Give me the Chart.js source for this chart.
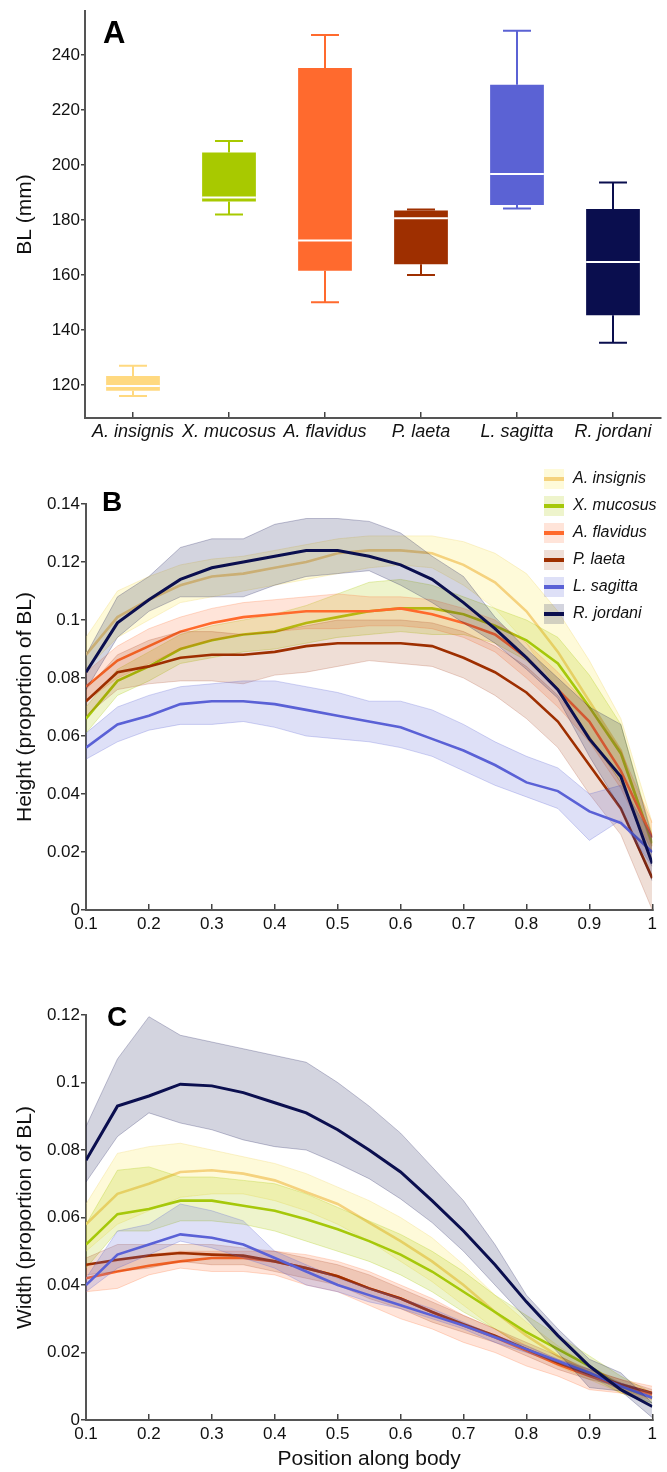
<!DOCTYPE html>
<html>
<head>
<meta charset="utf-8">
<script src="https://cdn.jsdelivr.net/npm/chart.js@4.4.1/dist/chart.umd.min.js"></script>
<style>
  html, body { margin: 0; padding: 0; background: #fff; }
  #wrap { position: relative; width: 667px; height: 1472px; }
  .panel { position: absolute; left: 0; width: 667px; }
</style>
</head>
<body>
<div id="wrap">
  <div class="panel" style="top:0px; height:448px"><canvas id="chartA" width="667" height="448"></canvas></div>
  <div class="panel" style="top:458px; height:490px"><canvas id="chartB" width="667" height="490"></canvas></div>
  <div class="panel" style="top:948px; height:524px"><canvas id="chartC" width="667" height="524"></canvas></div>
</div>
<script>
const species = ['A. insignis', 'X. mucosus', 'A. flavidus', 'P. laeta', 'L. sagitta', 'R. jordani'];
const lineColors = ['#f5d27e', '#a6c80a', '#ff6a2c', '#9e2f00', '#5a61d6', '#0b0f4f'];
const boxColors = ['#ffd980', '#a8c900', '#ff6a2e', '#9e2f00', '#5b62d4', '#0a0e4e'];
const bandColors = ['rgba(250,238,120,0.28)', 'rgba(168,201,0,0.2)', 'rgba(255,107,44,0.18)',
                    'rgba(158,47,0,0.16)', 'rgba(91,98,213,0.2)', 'rgba(11,14,78,0.18)'];
const bandEdges = ['rgba(240,215,110,0.4)', 'rgba(168,201,0,0.35)', 'rgba(255,107,44,0.3)',
                   'rgba(158,47,0,0.25)', 'rgba(91,98,213,0.35)', 'rgba(11,14,78,0.3)'];

// A: body length (mm)
const blMin    = [116.0, 182.0, 150.1, 160.0, 184.2, 135.4];
const blQ1     = [117.9, 186.8, 161.6, 163.9, 185.5, 145.4];
const blMedian = [119.6, 188.2, 172.6, 180.7, 196.8, 164.8];
const blQ3     = [123.3, 204.6, 235.3, 183.5, 229.2, 184.0];
const blMax    = [127.0, 208.8, 247.3, 183.9, 248.9, 193.7];
const blTicks  = [120, 140, 160, 180, 200, 220, 240];

// B, C: position along body
const bodyPos = [0.1, 0.15, 0.2, 0.25, 0.3, 0.35, 0.4, 0.45, 0.5, 0.55, 0.6, 0.65, 0.7, 0.75, 0.8, 0.85, 0.9, 0.95, 1];
const posTicks = [0.1, 0.2, 0.3, 0.4, 0.5, 0.6, 0.7, 0.8, 0.9, 1];
const heightTicks = [0, 0.02, 0.04, 0.06, 0.08, 0.1, 0.12, 0.14];
const widthTicks = [0, 0.02, 0.04, 0.06, 0.08, 0.1, 0.12];

// B: height (proportion of BL)
const hInsignis   = [0.088, 0.101, 0.107, 0.112, 0.115, 0.116, 0.118, 0.120, 0.123, 0.124, 0.124, 0.123, 0.119, 0.113, 0.103, 0.089, 0.072, 0.055, 0.022];
const hInsignisHi = [0.094, 0.110, 0.115, 0.119, 0.121, 0.122, 0.124, 0.126, 0.128, 0.129, 0.129, 0.129, 0.127, 0.123, 0.116, 0.103, 0.086, 0.066, 0.030];
const hInsignisLo = [0.083, 0.094, 0.100, 0.106, 0.108, 0.110, 0.112, 0.114, 0.116, 0.118, 0.119, 0.118, 0.112, 0.104, 0.092, 0.076, 0.058, 0.045, 0.015];
const hMucosus    = [0.066, 0.079, 0.084, 0.090, 0.093, 0.095, 0.096, 0.099, 0.101, 0.103, 0.104, 0.104, 0.102, 0.098, 0.093, 0.085, 0.070, 0.054, 0.023];
const hMucosusHi  = [0.070, 0.083, 0.089, 0.095, 0.098, 0.100, 0.102, 0.105, 0.109, 0.113, 0.114, 0.112, 0.108, 0.104, 0.100, 0.094, 0.081, 0.064, 0.026];
const hMucosusLo  = [0.061, 0.074, 0.079, 0.085, 0.087, 0.089, 0.090, 0.092, 0.094, 0.095, 0.096, 0.095, 0.095, 0.092, 0.086, 0.076, 0.060, 0.044, 0.020];
const hFlavidus   = [0.077, 0.086, 0.091, 0.096, 0.099, 0.101, 0.102, 0.103, 0.103, 0.103, 0.104, 0.102, 0.099, 0.095, 0.087, 0.076, 0.065, 0.048, 0.025];
const hFlavidusHi = [0.082, 0.091, 0.097, 0.101, 0.104, 0.106, 0.107, 0.108, 0.109, 0.108, 0.108, 0.107, 0.104, 0.100, 0.092, 0.082, 0.070, 0.055, 0.030];
const hFlavidusLo = [0.072, 0.080, 0.085, 0.090, 0.093, 0.095, 0.096, 0.097, 0.097, 0.098, 0.098, 0.097, 0.094, 0.089, 0.080, 0.070, 0.058, 0.042, 0.020];
const hLaeta      = [0.072, 0.082, 0.084, 0.087, 0.088, 0.088, 0.089, 0.091, 0.092, 0.092, 0.092, 0.091, 0.087, 0.082, 0.075, 0.065, 0.050, 0.035, 0.011];
const hLaetaHi    = [0.076, 0.088, 0.093, 0.096, 0.096, 0.095, 0.096, 0.098, 0.100, 0.100, 0.100, 0.099, 0.096, 0.091, 0.084, 0.074, 0.060, 0.044, 0.025];
const hLaetaLo    = [0.067, 0.076, 0.078, 0.079, 0.079, 0.078, 0.081, 0.082, 0.084, 0.086, 0.085, 0.084, 0.080, 0.074, 0.066, 0.056, 0.040, 0.026, 0.000];
const hSagitta    = [0.056, 0.064, 0.067, 0.071, 0.072, 0.072, 0.071, 0.069, 0.067, 0.065, 0.063, 0.059, 0.055, 0.050, 0.044, 0.041, 0.034, 0.030, 0.020];
const hSagittaHi  = [0.061, 0.070, 0.074, 0.077, 0.078, 0.079, 0.079, 0.077, 0.075, 0.072, 0.072, 0.069, 0.064, 0.058, 0.053, 0.049, 0.040, 0.043, 0.025];
const hSagittaLo  = [0.052, 0.058, 0.062, 0.064, 0.064, 0.065, 0.063, 0.060, 0.059, 0.058, 0.056, 0.053, 0.048, 0.043, 0.039, 0.035, 0.024, 0.031, 0.015];
const hJordani    = [0.082, 0.099, 0.107, 0.114, 0.118, 0.120, 0.122, 0.124, 0.124, 0.122, 0.119, 0.114, 0.106, 0.097, 0.087, 0.076, 0.059, 0.046, 0.016];
const hJordaniHi  = [0.088, 0.108, 0.115, 0.125, 0.128, 0.128, 0.133, 0.135, 0.135, 0.134, 0.130, 0.122, 0.115, 0.101, 0.090, 0.080, 0.070, 0.064, 0.025];
const hJordaniLo  = [0.076, 0.094, 0.103, 0.108, 0.108, 0.108, 0.112, 0.115, 0.116, 0.117, 0.112, 0.106, 0.099, 0.092, 0.083, 0.073, 0.053, 0.035, 0.010];

// C: width (proportion of BL)
const wInsignis   = [0.058, 0.067, 0.070, 0.0735, 0.074, 0.073, 0.071, 0.0675, 0.064, 0.0585, 0.053, 0.047, 0.040, 0.032, 0.025, 0.019, 0.014, 0.009, 0.0066];
const wInsignisHi = [0.064, 0.079, 0.081, 0.082, 0.080, 0.078, 0.076, 0.073, 0.069, 0.065, 0.060, 0.054, 0.046, 0.037, 0.029, 0.022, 0.016, 0.011, 0.008];
const wInsignisLo = [0.050, 0.058, 0.062, 0.066, 0.067, 0.067, 0.065, 0.062, 0.058, 0.053, 0.047, 0.041, 0.034, 0.027, 0.021, 0.016, 0.012, 0.008, 0.005];
const wMucosus    = [0.052, 0.061, 0.0625, 0.065, 0.065, 0.0635, 0.062, 0.0595, 0.0565, 0.053, 0.049, 0.044, 0.038, 0.032, 0.026, 0.021, 0.016, 0.010, 0.0066];
const wMucosusHi  = [0.058, 0.074, 0.075, 0.072, 0.072, 0.071, 0.070, 0.067, 0.063, 0.059, 0.055, 0.050, 0.044, 0.037, 0.031, 0.025, 0.019, 0.013, 0.008];
const wMucosusLo  = [0.045, 0.056, 0.056, 0.059, 0.059, 0.058, 0.056, 0.053, 0.050, 0.047, 0.043, 0.038, 0.032, 0.027, 0.021, 0.017, 0.013, 0.008, 0.005];
const wFlavidus   = [0.042, 0.044, 0.0457, 0.047, 0.048, 0.048, 0.047, 0.045, 0.0426, 0.039, 0.036, 0.032, 0.028, 0.0245, 0.0205, 0.0165, 0.013, 0.010, 0.0076];
const wFlavidusHi = [0.046, 0.047, 0.049, 0.050, 0.050, 0.050, 0.050, 0.049, 0.047, 0.044, 0.040, 0.036, 0.031, 0.027, 0.022, 0.018, 0.015, 0.012, 0.010];
const wFlavidusLo = [0.038, 0.039, 0.043, 0.045, 0.044, 0.044, 0.043, 0.040, 0.038, 0.034, 0.030, 0.027, 0.023, 0.020, 0.016, 0.013, 0.009, 0.008, 0.006];
const wLaeta      = [0.046, 0.0475, 0.0487, 0.0495, 0.049, 0.0487, 0.047, 0.045, 0.0426, 0.039, 0.036, 0.032, 0.0284, 0.025, 0.021, 0.017, 0.0136, 0.0106, 0.008];
const wLaetaHi    = [0.048, 0.052, 0.052, 0.052, 0.052, 0.051, 0.050, 0.048, 0.046, 0.043, 0.039, 0.035, 0.031, 0.027, 0.023, 0.019, 0.015, 0.012, 0.009];
const wLaetaLo    = [0.043, 0.044, 0.045, 0.047, 0.046, 0.046, 0.044, 0.042, 0.040, 0.036, 0.033, 0.029, 0.026, 0.023, 0.019, 0.015, 0.012, 0.010, 0.007];
const wSagitta    = [0.040, 0.049, 0.052, 0.055, 0.054, 0.052, 0.048, 0.044, 0.040, 0.037, 0.034, 0.031, 0.028, 0.0245, 0.021, 0.0175, 0.014, 0.010, 0.0066];
const wSagittaHi  = [0.042, 0.056, 0.058, 0.064, 0.062, 0.059, 0.050, 0.046, 0.042, 0.039, 0.036, 0.033, 0.029, 0.025, 0.022, 0.018, 0.015, 0.011, 0.008];
const wSagittaLo  = [0.038, 0.045, 0.049, 0.053, 0.051, 0.048, 0.045, 0.040, 0.038, 0.035, 0.033, 0.030, 0.027, 0.023, 0.020, 0.017, 0.013, 0.009, 0.005];
const wJordani    = [0.077, 0.093, 0.096, 0.0995, 0.099, 0.097, 0.094, 0.091, 0.086, 0.080, 0.0735, 0.065, 0.056, 0.046, 0.035, 0.025, 0.016, 0.009, 0.004];
const wJordaniHi  = [0.087, 0.107, 0.1195, 0.114, 0.112, 0.110, 0.108, 0.106, 0.100, 0.093, 0.085, 0.075, 0.065, 0.052, 0.037, 0.027, 0.018, 0.014, 0.005];
const wJordaniLo  = [0.0705, 0.084, 0.091, 0.088, 0.086, 0.083, 0.081, 0.080, 0.076, 0.0715, 0.0655, 0.0585, 0.050, 0.040, 0.030, 0.020, 0.0096, 0.0086, 0.0007];

const FONT = '"Liberation Sans", Arial, Helvetica, sans-serif';
Chart.defaults.font.family = FONT;
Chart.defaults.color = '#111';

const fmt = v => String(Number(Number(v).toFixed(3)));

// panel letter (A, B, C)
const panelLetter = {
    id: 'panelLetter',
    afterDraw(chart, args, opts) {
        const { ctx } = chart;
        ctx.save();
        ctx.font = 'bold ' + opts.size + 'px ' + FONT;
        ctx.fillStyle = '#000';
        ctx.textBaseline = 'alphabetic';
        ctx.fillText(opts.text, opts.x, opts.y);
        ctx.restore();
    }
};

// whiskers + median for the box plot
const boxWhiskers = {
    id: 'boxWhiskers',
    afterDatasetsDraw(chart) {
        const { ctx, scales: { x, y } } = chart;
        const bars = chart.getDatasetMeta(0).data;
        ctx.save();
        species.forEach((name, i) => {
            const cx = x.getPixelForValue(i);
            const half = bars[i].width / 2;
            const cap = half * 0.52;
            ctx.strokeStyle = boxColors[i];
            ctx.lineWidth = 2;
            ctx.beginPath();
            ctx.moveTo(cx, y.getPixelForValue(blQ3[i]));
            ctx.lineTo(cx, y.getPixelForValue(blMax[i]));
            ctx.moveTo(cx - cap, y.getPixelForValue(blMax[i]));
            ctx.lineTo(cx + cap, y.getPixelForValue(blMax[i]));
            ctx.moveTo(cx, y.getPixelForValue(blQ1[i]));
            ctx.lineTo(cx, y.getPixelForValue(blMin[i]));
            ctx.moveTo(cx - cap, y.getPixelForValue(blMin[i]));
            ctx.lineTo(cx + cap, y.getPixelForValue(blMin[i]));
            ctx.stroke();

            ctx.strokeStyle = '#fff';
            ctx.beginPath();
            ctx.moveTo(cx - half, y.getPixelForValue(blMedian[i]));
            ctx.lineTo(cx + half, y.getPixelForValue(blMedian[i]));
            ctx.stroke();
        });
        ctx.restore();
    }
};

// legend of panel B (band swatch with line through it)
const bandLegend = {
    id: 'bandLegend',
    afterDraw(chart) {
        const { ctx } = chart;
        ctx.save();
        ctx.font = 'italic 16px ' + FONT;
        ctx.textBaseline = 'middle';
        species.forEach((name, i) => {
            const yMid = 21 + i * 27;
            ctx.fillStyle = bandColors[i];
            ctx.fillRect(544, yMid - 10, 20, 20);
            ctx.fillStyle = lineColors[i];
            ctx.fillRect(544, yMid - 2, 20, 4);
            ctx.fillStyle = '#111';
            ctx.fillText(name, 573, yMid);
        });
        ctx.restore();
    }
};

function bandDatasets(means, lows, highs) {
    const pts = arr => arr.map((v, k) => ({ x: bodyPos[k], y: v }));
    const out = [];
    species.forEach((name, i) => {
        out.push({
            label: name + ' upper', data: pts(highs[i]), borderColor: bandEdges[i], borderWidth: 0.8,
            backgroundColor: bandColors[i], fill: '+1', pointRadius: 0, order: 100 - 2 * i,
        });
        out.push({
            label: name + ' lower', data: pts(lows[i]), borderColor: bandEdges[i], borderWidth: 0.8,
            fill: false, pointRadius: 0, order: 100 - 2 * i,
        });
        out.push({
            label: name, data: pts(means[i]), borderColor: lineColors[i], borderWidth: i === 5 ? 3 : 2.6,
            fill: false, pointRadius: 0, order: 99 - 2 * i,
        });
    });
    return out;
}

const axisBorder = { display: true, color: '#555', width: 2 };

function lineConfig(datasets, yTicks, yMax, yTitle, xHeight, padTop, letter, extraPlugins, xTitle) {
    return {
        type: 'line',
        data: { datasets: datasets },
        plugins: [panelLetter].concat(extraPlugins),
        options: {
            responsive: false,
            animation: false,
            layout: { padding: { top: padTop, right: 10, left: 0, bottom: 0 } },
            plugins: {
                legend: { display: false },
                tooltip: { enabled: false },
                panelLetter: letter,
            },
            scales: {
                x: {
                    type: 'linear', min: 0.1, max: 1,
                    afterBuildTicks: s => { s.ticks = posTicks.map(v => ({ value: v })); },
                    afterFit: s => { s.height = xHeight; },
                    ticks: { callback: fmt, font: { size: 17 }, padding: 10, maxRotation: 0, minRotation: 0, color: '#111' },
                    grid: { drawOnChartArea: false, tickLength: -6, color: '#444', lineWidth: 1.5 },
                    border: axisBorder,
                    title: xTitle ? { display: true, text: xTitle, font: { size: 21 }, color: '#111', padding: { top: 0, bottom: 0 } } : { display: false },
                },
                y: {
                    min: 0, max: yMax,
                    afterBuildTicks: s => { s.ticks = yTicks.map(v => ({ value: v })); },
                    afterFit: s => { s.width = 86; },
                    ticks: { callback: fmt, font: { size: 17 }, padding: 1, color: '#111' },
                    grid: { drawOnChartArea: false, tickLength: 5, color: '#444', lineWidth: 1.5 },
                    border: axisBorder,
                    title: { display: true, text: yTitle, font: { size: 21 }, color: '#111', padding: { top: 13, bottom: 0 } },
                },
            },
        },
    };
}

// A
const configA = {
    type: 'bar',
    data: {
        labels: species,
        datasets: [{
            label: 'BL',
            data: species.map((s, i) => [blQ1[i], blQ3[i]]),
            backgroundColor: boxColors,
            borderWidth: 0,
            barPercentage: 0.56,
            categoryPercentage: 1,
        }],
    },
    plugins: [boxWhiskers, panelLetter],
    options: {
        responsive: false,
        animation: false,
        layout: { padding: { top: 10, right: 6, left: 0, bottom: 0 } },
        plugins: {
            legend: { display: false },
            tooltip: { enabled: false },
            panelLetter: { text: 'A', x: 103, y: 43, size: 31 },
        },
        scales: {
            x: {
                afterFit: s => { s.height = 30; },
                ticks: { font: { size: 18, style: 'italic' }, padding: 9, color: '#111', maxRotation: 0, minRotation: 0, autoSkip: false },
                grid: { drawOnChartArea: false, offset: false, tickLength: -6, color: '#444', lineWidth: 1.5 },
                border: axisBorder,
            },
            y: {
                min: 108, max: 256,
                afterBuildTicks: s => { s.ticks = blTicks.map(v => ({ value: v })); },
                afterFit: s => { s.width = 85; },
                ticks: { font: { size: 17 }, padding: 1, color: '#111' },
                grid: { drawOnChartArea: false, tickLength: 4, color: '#444', lineWidth: 1.5 },
                border: axisBorder,
                title: { display: true, text: 'BL (mm)', font: { size: 21 }, color: '#111', padding: { top: 13, bottom: 0 } },
            },
        },
    },
};

const chartA = new Chart(document.getElementById('chartA'), configA);

const chartB = new Chart(document.getElementById('chartB'), lineConfig(
    bandDatasets(
        [hInsignis, hMucosus, hFlavidus, hLaeta, hSagitta, hJordani],
        [hInsignisLo, hMucosusLo, hFlavidusLo, hLaetaLo, hSagittaLo, hJordaniLo],
        [hInsignisHi, hMucosusHi, hFlavidusHi, hLaetaHi, hSagittaHi, hJordaniHi]),
    heightTicks, 0.14, 'Height (proportion of BL)', 38, 46,
    { text: 'B', x: 102, y: 53, size: 28 }, [bandLegend], null));

const chartC = new Chart(document.getElementById('chartC'), lineConfig(
    bandDatasets(
        [wInsignis, wMucosus, wFlavidus, wLaeta, wSagitta, wJordani],
        [wInsignisLo, wMucosusLo, wFlavidusLo, wLaetaLo, wSagittaLo, wJordaniLo],
        [wInsignisHi, wMucosusHi, wFlavidusHi, wLaetaHi, wSagittaHi, wJordaniHi]),
    widthTicks, 0.12, 'Width (proportion of BL)', 52, 67,
    { text: 'C', x: 107, y: 78, size: 28 }, [], 'Position along body'));
</script>
</body>
</html>
